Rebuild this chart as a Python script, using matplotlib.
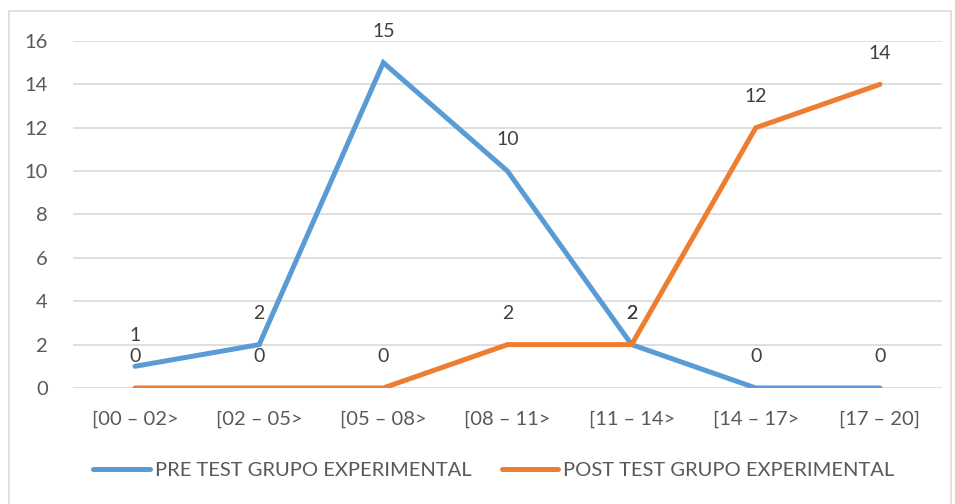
import matplotlib.pyplot as plt
from matplotlib.patches import Rectangle

# datos
categorias = ['[00 – 02>', '[02 – 05>', '[05 – 08>', '[08 – 11>',
              '[11 – 14>', '[14 – 17>', '[17 – 20]']
pre_test = [1, 2, 15, 10, 2, 0, 0]
post_test = [0, 0, 0, 2, 2, 12, 14]

plt.rcParams['font.family'] = ['Lato', 'DejaVu Sans']

fig = plt.figure(figsize=(9.55, 5.04), dpi=100)
ax = fig.add_axes([0.0764, 0.2302, 0.9100, 0.6885])

x = list(range(len(categorias)))
azul = '#5B9BD5'
naranja = '#ED7D31'

ax.plot(x, pre_test, color=azul, lw=3.6, solid_capstyle='round',
        solid_joinstyle='miter', label='PRE TEST GRUPO EXPERIMENTAL', zorder=3)
ax.plot(x, post_test, color=naranja, lw=3.6, solid_capstyle='round',
        solid_joinstyle='miter', label='POST TEST GRUPO EXPERIMENTAL', zorder=3)

# etiquetas de datos
for serie in (pre_test, post_test):
    for xi, yi in zip(x, serie):
        ax.annotate(str(yi), (xi, yi), xytext=(0, 22.5), textcoords='offset points',
                    ha='center', va='center', fontsize=14, color='#404040')

ax.set_xlim(-0.5, len(categorias) - 0.5)
ax.set_ylim(0, 16)
ax.set_yticks(range(0, 17, 2))
ax.set_xticks(x)
ax.set_xticklabels(categorias)
ax.tick_params(axis='both', length=0, labelsize=14.5, colors='#595959')
ax.tick_params(axis='x', pad=16)
ax.tick_params(axis='y', pad=18)
ax.grid(axis='y', color='#D9D9D9', lw=1.2)
ax.set_axisbelow(True)
for s in ax.spines.values():
    s.set_visible(False)

fig.legend(loc='center', bbox_to_anchor=(0.517, 0.067), ncol=2, frameon=False,
           fontsize=14.5, labelcolor='#595959', handlelength=2.8,
           handletextpad=0.25, columnspacing=1.5)

# borde del grafico
fig.patches.append(Rectangle((9 / 955, -0.02), 942 / 955, 1 - 11 / 504 + 0.02,
                             transform=fig.transFigure, fill=False,
                             edgecolor='#D9D9D9', lw=1.2))

fig.savefig('out.png', dpi=100)
